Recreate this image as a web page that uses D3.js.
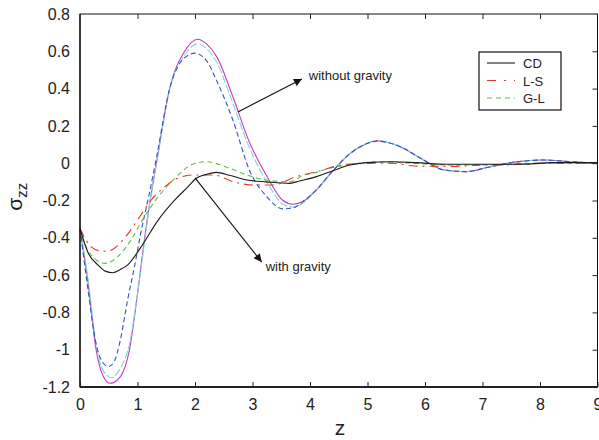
<!DOCTYPE html>
<html>
<head>
<meta charset="utf-8">
<script src="https://cdn.jsdelivr.net/npm/d3@7"></script>
<style>
  body { margin: 0; background: #fff; }
  text { font-family: "Liberation Sans", Arial, sans-serif; fill: #222; }
</style>
</head>
<body>
<div id="chart"></div>
<script>
// sigma_zz vs z
const xTicks = [0, 1, 2, 3, 4, 5, 6, 7, 8, 9];
const yTicks = [0.8, 0.6, 0.4, 0.2, 0, -0.2, -0.4, -0.6, -0.8, -1, -1.2];

// with gravity
const cd = [[0,-0.35],[0.14,-0.48],[0.31,-0.545],[0.45,-0.58],[0.57,-0.587],[0.7,-0.57],[0.83,-0.545],[1.06,-0.45],[1.36,-0.305],[1.65,-0.197],[1.88,-0.126],[2.02,-0.081],
  [2.2,-0.06],[2.37,-0.049],[2.6,-0.065],[2.9,-0.09],[3.24,-0.1],[3.65,-0.108],[3.82,-0.095],[4.11,-0.072],[4.4,-0.04],[4.69,-0.01],[4.98,0.003],[5.44,0.008],
  [5.85,0.003],[6.37,-0.006],[7.0,-0.006],[7.76,-0.005],[8.2,0.003],[9,0.003]];
const ls = [[0,-0.35],[0.1,-0.41],[0.2,-0.45],[0.35,-0.47],[0.46,-0.472],[0.55,-0.465],[0.66,-0.44],[0.83,-0.38],[1.0,-0.305],[1.24,-0.197],[1.44,-0.135],[1.7,-0.081],
  [1.96,-0.063],[2.32,-0.063],[2.66,-0.099],[3.01,-0.117],[3.36,-0.117],[3.76,-0.072],[4.0,-0.054],[4.11,-0.046],[4.63,-0.006],[5.21,0],[5.5,-0.002],[5.8,-0.015],
  [6.4,-0.017],[7.0,-0.01],[7.5,-0.008],[8.0,0],[9,0]];
const gl = [[0,-0.35],[0.08,-0.43],[0.25,-0.51],[0.43,-0.537],[0.66,-0.5],[0.89,-0.41],[1.12,-0.287],[1.36,-0.18],[1.65,-0.081],[1.93,-0.01],[2.19,0.008],[2.6,-0.027],
  [2.9,-0.063],[3.24,-0.09],[3.65,-0.1],[3.9,-0.063],[4.05,-0.054],[4.34,-0.027],[4.75,-0.006],[5.16,0.008],[5.56,0.003],[6.0,-0.004],[6.4,-0.01],[7.3,-0.01],[7.8,0],[9,0]];

// without gravity
const ngMag = [[0,-0.35],[0.14,-0.64],[0.28,-1.0],[0.4,-1.14],[0.52,-1.18],[0.66,-1.16],[0.86,-1.0],[1.0,-0.7],[1.12,-0.41],[1.22,-0.2],[1.33,0],[1.56,0.4],
  [1.82,0.6],[2.05,0.665],[2.2,0.64],[2.38,0.57],[2.66,0.355],[2.95,0.11],[3.25,-0.07],[3.53,-0.2],[3.7,-0.22],[3.85,-0.21],[4.12,-0.14],[4.4,-0.04],[4.69,0.05],
  [4.95,0.1],[5.16,0.12],[5.56,0.09],[5.96,0.02],[6.31,-0.035],[6.72,-0.045],[7.12,-0.02],[7.59,0.007],[8.05,0.017],[8.57,0.007],[9,0]];
const ngCyan = [[0,-0.35],[0.14,-0.62],[0.28,-0.97],[0.4,-1.11],[0.55,-1.15],[0.7,-1.1],[0.86,-0.97],[1.0,-0.7],[1.12,-0.43],[1.22,-0.2],[1.33,0],[1.56,0.4],
  [1.82,0.58],[2.05,0.64],[2.2,0.615],[2.38,0.54],[2.66,0.32],[2.95,0.08],[3.25,-0.1],[3.53,-0.22],[3.7,-0.235],[3.85,-0.22],[4.12,-0.14],[4.4,-0.04],[4.69,0.05],
  [4.95,0.1],[5.16,0.118],[5.56,0.09],[5.96,0.02],[6.31,-0.035],[6.72,-0.045],[7.12,-0.02],[7.59,0.007],[8.05,0.017],[8.57,0.007],[9,0]];
const ngBlue = [[0,-0.35],[0.14,-0.68],[0.28,-0.97],[0.4,-1.07],[0.5,-1.09],[0.6,-1.06],[0.7,-0.95],[0.83,-0.73],[0.95,-0.55],[1.06,-0.37],[1.2,-0.17],[1.33,0.03],
  [1.56,0.4],[1.8,0.56],[2.0,0.59],[2.2,0.55],[2.38,0.44],[2.66,0.23],[2.95,-0.04],[3.25,-0.18],[3.53,-0.245],[3.7,-0.24],[3.9,-0.2],[4.12,-0.14],[4.4,-0.04],
  [4.69,0.05],[4.95,0.1],[5.16,0.118],[5.56,0.09],[5.96,0.02],[6.31,-0.035],[6.72,-0.045],[7.12,-0.02],[7.59,0.007],[8.05,0.017],[8.57,0.007],[9,0]];

const legendNames = ["CD", "L-S", "G-L"];

const width = 599, height = 440;
const margin = { top: 14, right: 1.5, bottom: 53, left: 80 };

const svg = d3.select("#chart").append("svg")
  .attr("width", width)
  .attr("height", height);

const x = d3.scaleLinear().domain([0, 9]).range([margin.left, width - margin.right]);
const y = d3.scaleLinear().domain([-1.2, 0.8]).range([height - margin.bottom, margin.top]);

// arrow head
svg.append("defs").append("marker")
  .attr("id", "head")
  .attr("viewBox", "0 0 10 10")
  .attr("refX", 10).attr("refY", 5)
  .attr("markerWidth", 11).attr("markerHeight", 8)
  .attr("markerUnits", "userSpaceOnUse")
  .attr("orient", "auto")
  .append("path").attr("d", "M0,0 L10,5 L0,10 Z").attr("fill", "#111");

const line = d3.line()
  .x(d => x(d[0]))
  .y(d => y(d[1]))
  .curve(d3.curveMonotoneX);

const series = [
  { data: ngMag, color: "#c33cc3", dash: null },
  { data: ngCyan, color: "#7fd6d2", dash: "8,2" },
  { data: ngBlue, color: "#3352c4", dash: "5,3" },
  { data: gl, color: "#5cc040", dash: "5,3.5" },
  { data: ls, color: "#e3382a", dash: "9,5,2,5" },
  { data: cd, color: "#1a1a1a", dash: null }
];

svg.append("g")
  .selectAll("path")
  .data(series)
  .enter().append("path")
  .attr("d", d => line(d.data))
  .attr("fill", "none")
  .attr("stroke", d => d.color)
  .attr("stroke-width", 1.1)
  .attr("stroke-dasharray", d => d.dash);

// frame and ticks
const x0 = x(0), x1 = x(9), yTop = y(0.8), yBot = y(-1.2);
svg.append("rect")
  .attr("x", x0).attr("y", yTop)
  .attr("width", x1 - x0).attr("height", yBot - yTop)
  .attr("fill", "none").attr("stroke", "#111").attr("stroke-width", 1);
svg.append("line").attr("x1", x0).attr("x2", x1).attr("y1", yBot).attr("y2", yBot)
  .attr("stroke", "#222").attr("stroke-width", 2);
svg.append("line").attr("x1", x0).attr("x2", x0).attr("y1", yTop).attr("y2", yBot)
  .attr("stroke", "#222").attr("stroke-width", 1.5);

const xAxis = svg.append("g").attr("transform", `translate(0,${yBot})`)
  .call(d3.axisBottom(x).tickValues(xTicks).tickSize(-5).tickPadding(12).tickFormat(d3.format("d")));
const xTop = svg.append("g").attr("transform", `translate(0,${yTop})`)
  .call(d3.axisTop(x).tickValues(xTicks.slice(1, -1)).tickSize(-5).tickFormat(""));
const yAxis = svg.append("g").attr("transform", `translate(${x0},0)`)
  .call(d3.axisLeft(y).tickValues(yTicks).tickSize(0).tickPadding(10).tickFormat(d => d3.format("")(+d.toFixed(1))));
const yRight = svg.append("g").attr("transform", `translate(${x1},0)`)
  .call(d3.axisRight(y).tickValues(yTicks.slice(1, -1)).tickSize(-5).tickFormat(""));

[xAxis, xTop, yAxis, yRight].forEach(g => {
  g.select(".domain").remove();
  g.selectAll(".tick line").attr("stroke", "#222");
  g.selectAll("text").attr("font-size", 16).attr("fill", "#222")
    .attr("font-family", "'Liberation Sans', Arial, sans-serif");
});
yAxis.selectAll("text").text(d => d === 0 ? "0" : String(+d.toFixed(1)).replace("0.", "0."));

// axis labels
svg.append("text")
  .attr("x", x(4.52)).attr("y", 435)
  .attr("text-anchor", "middle").attr("font-size", 21).text("z");

const yl = svg.append("text")
  .attr("transform", `translate(22,${y(-0.18)}) rotate(-90)`)
  .attr("text-anchor", "middle").attr("font-size", 21);
yl.append("tspan").text("σ");
yl.append("tspan").attr("font-size", 15).attr("dy", 5).text("zz");

// annotations (data coordinates)
const annotations = [
  { from: [2.745, 0.275], to: [3.86, 0.452], at: [3.98, 0.448], label: "without gravity" },
  { from: [2.0, -0.079], to: [3.16, -0.53], at: [3.23, -0.578], label: "with gravity" }
];
const ann = svg.append("g").selectAll("g").data(annotations).enter().append("g");
ann.append("line")
  .attr("x1", d => x(d.from[0])).attr("y1", d => y(d.from[1]))
  .attr("x2", d => x(d.to[0])).attr("y2", d => y(d.to[1]))
  .attr("stroke", "#111").attr("stroke-width", 1.1)
  .attr("marker-end", "url(#head)");
ann.append("text")
  .attr("x", d => x(d.at[0])).attr("y", d => y(d.at[1]))
  .attr("font-size", 13).text(d => d.label);

// legend
const legend = svg.append("g").attr("transform", "translate(479,52)");
legend.append("rect").attr("width", 82).attr("height", 58)
  .attr("fill", "#fff").attr("stroke", "#111").attr("stroke-width", 1.2);
const legendSeries = [series[5], series[4], series[3]];
const item = legend.selectAll("g.item").data(legendNames).enter().append("g")
  .attr("class", "item")
  .attr("transform", (d, i) => `translate(0,${11 + i * 17.5})`);
item.append("line")
  .attr("x1", 8).attr("x2", 36).attr("y1", 0).attr("y2", 0)
  .attr("stroke", (d, i) => legendSeries[i].color)
  .attr("stroke-width", 1.1)
  .attr("stroke-dasharray", (d, i) => i === 1 ? "9,8,2,8" : (i === 2 ? "5,4" : null));
item.append("text")
  .attr("x", 44).attr("y", 5)
  .attr("font-size", 13).text(d => d);
</script>
</body>
</html>
